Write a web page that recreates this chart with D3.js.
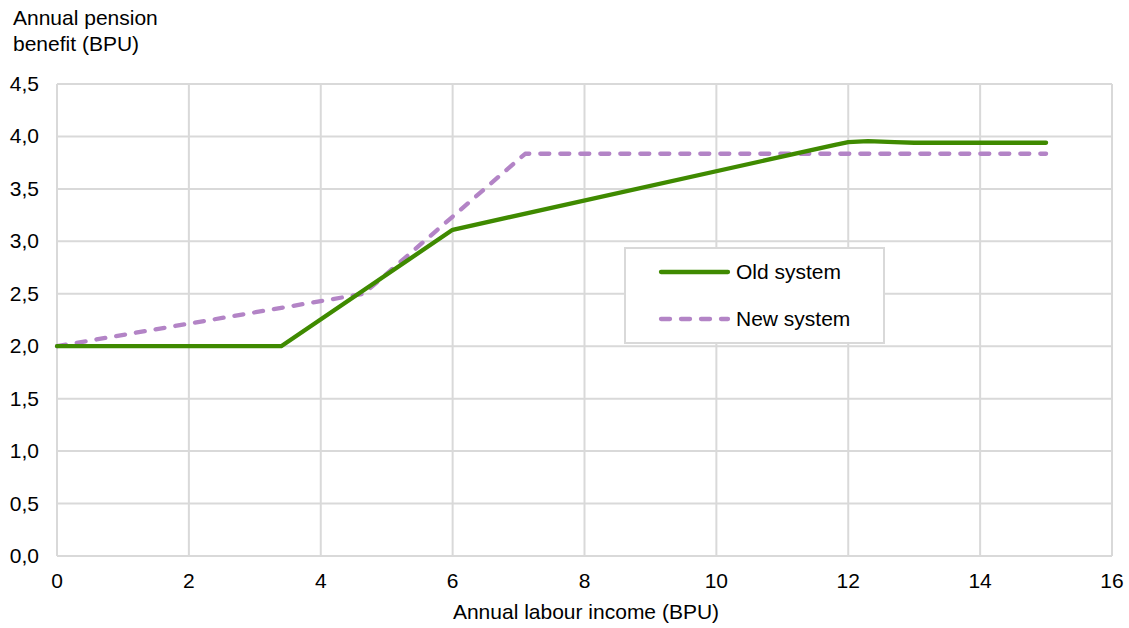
<!DOCTYPE html>
<html><head><meta charset="utf-8">
<script src="https://cdn.jsdelivr.net/npm/d3@7"></script>
<style>body{margin:0;background:#fff}svg{font-family:"Liberation Sans",Arial,sans-serif}</style>
</head><body><svg id="c" width="1129" height="628"></svg>
<script>
const oldX = [0, 3.4, 6, 11.8, 12, 12.3, 12.7, 13, 15];
const oldY = [2.0, 2.0, 3.11, 3.92, 3.945, 3.955, 3.945, 3.94, 3.94];
const newX = [0, 4.65, 7.1, 15];
const newY = [2.0, 2.5, 3.835, 3.835];
const xTicks = [0, 2, 4, 6, 8, 10, 12, 14, 16];
const yTicks = [0, 0.5, 1, 1.5, 2, 2.5, 3, 3.5, 4, 4.5];
const seriesNames = ["Old system", "New system"];
const colors = ["#3f8a00", "#b384c6"];

const FS = 21;
const svg = d3.select("#c");
const x = d3.scaleLinear().domain([0, 16]).range([57, 1112]);
const y = d3.scaleLinear().domain([0, 4.5]).range([556, 84]);
const fmt = d => d.toFixed(1).replace(".", ",");

const grid = svg.append("g");
grid.selectAll("line.v").data(xTicks).join("line")
  .attr("x1", d => x(d)).attr("x2", d => x(d)).attr("y1", y(0)).attr("y2", y(4.5))
  .attr("stroke", "#d9d9d9").attr("stroke-width", 2);
grid.selectAll("line.h").data(yTicks).join("line")
  .attr("y1", d => y(d)).attr("y2", d => y(d)).attr("x1", x(0)).attr("x2", x(16))
  .attr("stroke", "#d9d9d9").attr("stroke-width", 2);

svg.append("g").selectAll("text").data(yTicks).join("text")
  .attr("x", 39).attr("y", d => y(d) + 7).attr("text-anchor", "end")
  .attr("font-size", FS).attr("fill", "#000").text(fmt);
svg.append("g").selectAll("text").data(xTicks).join("text")
  .attr("x", d => x(d)).attr("y", 588).attr("text-anchor", "middle")
  .attr("font-size", FS).attr("fill", "#000").text(d => d);

svg.append("text").attr("x", 586).attr("y", 619).attr("text-anchor", "middle")
  .attr("font-size", FS).text("Annual labour income (BPU)");
const t = svg.append("text").attr("font-size", FS);
t.append("tspan").attr("x", 13).attr("y", 25).text("Annual pension");
t.append("tspan").attr("x", 13).attr("y", 51).text("benefit (BPU)");

const line = d3.line().x(d => x(d[0])).y(d => y(d[1]));
const oldData = oldX.map((v, i) => [v, oldY[i]]);
const newData = newX.map((v, i) => [v, newY[i]]);
svg.append("path").datum(newData).attr("d", line).attr("fill", "none")
  .attr("stroke", colors[1]).attr("stroke-width", 4.3).attr("stroke-dasharray", "9,11")
  .attr("stroke-linecap", "round").attr("stroke-linejoin", "round");
svg.append("path").datum(oldData).attr("d", line).attr("fill", "none")
  .attr("stroke", colors[0]).attr("stroke-width", 4.3)
  .attr("stroke-linecap", "round").attr("stroke-linejoin", "round");

// legend
const lg = svg.append("g");
lg.append("rect").attr("x", 625).attr("y", 248).attr("width", 259).attr("height", 95)
  .attr("fill", "#fff").attr("stroke", "#d9d9d9").attr("stroke-width", 2);
seriesNames.forEach((n, i) => {
  const yy = 272 + i * 47;
  lg.append("line").attr("x1", 661).attr("x2", 728).attr("y1", yy).attr("y2", yy)
    .attr("stroke", colors[i]).attr("stroke-width", 4.3).attr("stroke-linecap", "round")
    .attr("stroke-dasharray", i ? "9,11" : null);
  lg.append("text").attr("x", 736).attr("y", yy + 7).attr("font-size", FS).text(n);
});
</script></body></html>
